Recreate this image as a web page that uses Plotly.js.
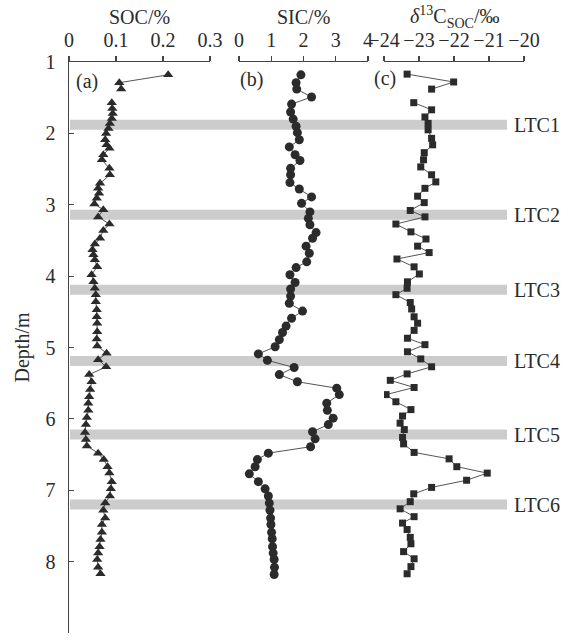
<!DOCTYPE html>
<html>
<head>
<meta charset="utf-8">
<script src="https://cdn.plot.ly/plotly-3.0.1.min.js"></script>
<style>html,body{margin:0;padding:0;background:#fff;}#chart{width:569px;height:641px;}</style>
</head>
<body>
<div id="chart"></div>
<script>
// ---- Data ----
const socDepth = [1.18,1.29,1.38,1.48,1.57,1.65,1.72,1.79,1.86,1.93,2.00,2.09,2.16,2.21,2.30,2.37,2.49,2.58,2.70,2.77,2.84,2.91,2.99,3.07,3.17,3.27,3.36,3.47,3.55,3.63,3.70,3.77,3.87,3.98,4.08,4.17,4.26,4.36,4.47,4.57,4.66,4.78,4.88,4.98,5.08,5.17,5.27,5.38,5.48,5.59,5.69,5.78,5.88,5.98,6.08,6.19,6.29,6.38,6.48,6.57,6.67,6.76,6.88,6.98,7.08,7.18,7.28,7.39,7.48,7.59,7.69,7.79,7.88,7.97,8.08,8.17];
const socValue = [0.211,0.107,0.111,null,0.091,0.092,0.093,0.091,0.087,0.084,0.079,0.077,0.080,0.086,0.073,0.070,0.086,0.087,0.066,0.062,0.064,0.059,0.054,0.073,0.062,0.086,0.073,0.066,0.055,0.050,0.052,0.055,0.060,0.048,0.052,0.055,0.057,0.057,0.059,0.059,0.060,0.060,0.059,0.060,0.080,0.062,0.079,0.043,0.048,0.045,0.043,0.041,0.041,0.038,0.036,0.034,0.036,0.038,0.062,0.074,0.082,0.086,0.091,0.089,0.087,0.077,0.073,0.077,0.070,0.070,0.067,0.065,0.062,0.060,0.062,0.067];

const sicDepth = [1.18,1.29,1.38,1.49,1.59,1.70,1.80,1.90,1.99,2.09,2.19,2.30,2.38,2.49,2.58,2.69,2.78,2.89,2.98,3.10,3.19,3.28,3.39,3.47,3.58,3.68,3.80,3.88,3.98,4.09,4.18,4.28,4.38,4.49,4.59,4.70,4.79,4.89,4.99,5.09,5.18,5.28,5.38,5.48,5.57,5.66,5.78,5.88,5.99,6.08,6.18,6.28,6.39,6.48,6.57,6.67,6.77,6.88,6.98,7.08,7.18,7.28,7.39,7.48,7.59,7.68,7.79,7.88,7.97,8.08,8.18];
const sicValue = [1.92,1.77,1.79,2.25,1.63,1.60,1.68,1.77,1.81,1.87,1.56,1.74,1.89,1.60,1.60,1.58,1.87,2.25,1.94,2.20,2.15,2.20,2.39,2.28,2.08,2.18,2.10,1.77,1.58,1.74,1.60,1.60,1.56,1.97,1.63,1.46,1.35,1.25,1.12,0.60,0.88,1.71,1.25,1.81,3.03,3.11,2.72,2.74,2.92,2.77,2.28,2.36,2.22,0.91,0.57,0.50,0.32,0.60,0.81,0.91,0.94,0.96,0.98,0.99,1.01,1.03,1.04,1.06,1.09,1.10,1.09];

const d13Depth = [1.17,1.28,1.38,1.48,1.57,1.67,1.77,1.86,1.95,2.07,2.16,2.27,2.37,2.47,2.58,2.68,2.77,2.88,2.97,3.08,3.17,3.27,3.38,3.48,3.58,3.67,3.76,3.87,3.97,4.08,4.17,4.26,4.37,4.46,4.57,4.66,4.76,4.87,4.96,5.06,5.16,5.27,5.37,5.46,5.56,5.66,5.76,5.87,5.96,6.06,6.15,6.26,6.35,6.47,6.56,6.67,6.76,6.86,6.96,7.05,7.16,7.26,7.37,7.46,7.55,7.66,7.75,7.86,7.96,8.07,8.17];
const d13Value = [-23.34,-22.01,-22.64,null,-23.15,-22.64,-22.83,-22.74,-22.74,-22.64,-22.61,-22.85,-22.87,-22.95,-22.64,-22.52,-22.83,-23.04,-22.85,-23.25,-22.83,-23.66,-23.23,-22.80,-23.04,-22.71,-23.63,-23.14,-22.99,-23.33,-23.34,-23.66,-23.25,-23.21,-23.14,-23.04,-23.14,-23.33,-22.83,-23.33,-22.95,-22.64,-23.34,-23.82,-23.14,-23.94,-23.66,-23.23,-23.47,-23.54,-23.42,-23.47,-23.44,-23.14,-22.14,-21.92,-21.05,-21.64,-22.64,-23.15,-23.25,-23.54,-23.14,-23.47,-23.34,-23.25,-23.23,-23.44,-23.14,-23.23,-23.34];

const ltcNames = ["LTC1","LTC2","LTC3","LTC4","LTC5","LTC6"];
const ltcDepth = [1.88,3.14,4.19,5.19,6.22,7.20];

const panelTitles = ["SOC/%", "SIC/%", "<i>δ</i><sup>13</sup>C<sub>SOC</sub>/‰"];
const panelTags = ["(a)", "(b)", "(c)"];
const socTicks = [0,0.1,0.2,0.3];
const sicTicks = [0,1,2,3,4];
const d13Ticks = [-24,-23,-22,-21,-20];
const depthTicks = [1,2,3,4,5,6,7,8,9];

// ---- Styling ----
const W = 569;
const FONT = "'Liberation Serif', 'Times New Roman', Times, serif";
const FS = 20;
const INK = "#2b2b2b";
const LINE = "#555555";
const px = v => v / W;
const pY = ypix => (633 - ypix) / 571;

function trace(x, y, xa, symbol, size) {
  return {
    x: x, y: y, xaxis: xa, yaxis: "y", type: "scatter", mode: "lines+markers",
    line: {color: LINE, width: 1},
    marker: {symbol: symbol, size: size, color: INK, line: {width: 0}},
    connectgaps: false, showlegend: false, hoverinfo: "x+y"
  };
}

const data = [
  trace(socValue, socDepth, "x", "triangle-up", 9),
  trace(sicValue, sicDepth, "x2", "circle", 9),
  trace(d13Value, d13Depth, "x3", "square", 7)
];

const domains = [[px(69), px(210)], [px(239), px(368)], [px(384), px(524)]];

function xaxisDef(dom, range, ticks) {
  return {
    domain: dom, range: range, side: "top", anchor: "y",
    showline: true, linecolor: "#444", linewidth: 1.5,
    ticks: "outside", ticklen: 5, tickwidth: 1.2, tickcolor: "#444",
    tickvals: ticks, showgrid: false, zeroline: false, fixedrange: true,
    ticklabelstandoff: 1,
    tickfont: {family: FONT, size: FS, color: INK}
  };
}

const shapes = ltcDepth.map(d => ({
  type: "rect", xref: "paper", yref: "y",
  x0: px(70), x1: px(507), y0: d - 0.07, y1: d + 0.07,
  fillcolor: "#cccccc", line: {width: 0}, layer: "below"
}));

const annotations = ltcNames.map((n, i) => ({
  xref: "paper", yref: "y", x: px(512), y: ltcDepth[i],
  xanchor: "left", yanchor: "middle", showarrow: false, text: n,
  font: {family: FONT, size: FS, color: INK}
}));
// panel titles above the top axes
panelTitles.forEach((t, i) => {
  annotations.push({
    xref: "paper", yref: "paper", x: (domains[i][0] + domains[i][1]) / 2, y: pY(17),
    xanchor: "center", yanchor: "middle", showarrow: false, text: t,
    font: {family: FONT, size: FS, color: INK}
  });
});
// panel tags
[[74, 81], [238, 80], [372, 79]].forEach((p, i) => {
  annotations.push({
    xref: "paper", yref: "paper", x: px(p[0]), y: pY(p[1]),
    xanchor: "left", yanchor: "middle", showarrow: false, text: panelTags[i],
    font: {family: FONT, size: FS, color: INK}
  });
});

const layout = {
  width: 569, height: 641,
  margin: {l: 0, r: 0, t: 62, b: 8, pad: 0},
  paper_bgcolor: "#ffffff", plot_bgcolor: "rgba(0,0,0,0)",
  font: {family: FONT, size: FS, color: INK},
  xaxis: xaxisDef(domains[0], [0, 0.3], socTicks),
  xaxis2: xaxisDef(domains[1], [0, 4], sicTicks),
  xaxis3: xaxisDef(domains[2], [-24, -20], d13Ticks),
  yaxis: {
    domain: [0, 1], range: [9, 1], anchor: "x", side: "left",
    showline: true, linecolor: "#444", linewidth: 1.5,
    ticks: "inside", ticklen: 5, tickwidth: 1.2, tickcolor: "#444",
    tickvals: depthTicks, showgrid: false, zeroline: false, fixedrange: true,
    ticklabelstandoff: 8,
    tickfont: {family: FONT, size: FS, color: INK},
    title: {text: "Depth/m", font: {family: FONT, size: FS, color: INK}, standoff: 10}
  },
  shapes: shapes,
  annotations: annotations
};

Plotly.newPlot("chart", data, layout, {staticPlot: true, displayModeBar: false});
</script>
</body>
</html>
